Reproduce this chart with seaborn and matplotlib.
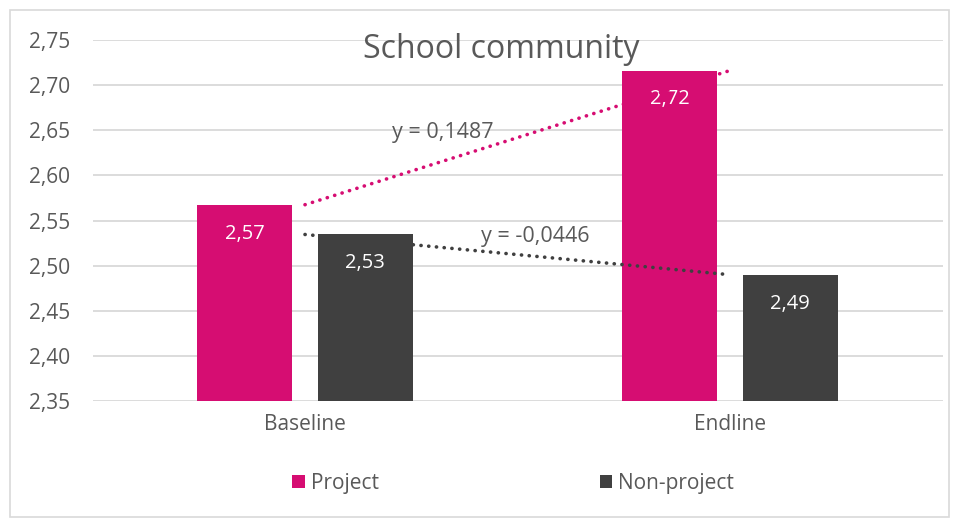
import matplotlib
matplotlib.use("Agg")
import matplotlib.pyplot as plt
import seaborn as sns
import pandas as pd
import numpy as np
from matplotlib.patches import Rectangle

categories = ["Baseline", "Endline"]
groups = ["Project", "Non-project"]
project_vals = [2.5675, 2.7162]
nonproject_vals = [2.5345, 2.4899]
trend_labels = ["y = 0,1487", "y = -0,0446"]
yticks = [2.35, 2.40, 2.45, 2.50, 2.55, 2.60, 2.65, 2.70, 2.75]

colors = {"Project": "#D60D72", "Non-project": "#404040"}

df = pd.DataFrame({
    "Period": categories * 2,
    "Group": ["Project"] * 2 + ["Non-project"] * 2,
    "Value": project_vals + nonproject_vals,
})

sns.set_theme(style="white")
plt.rcParams["font.family"] = ["Open Sans", "DejaVu Sans"]

fig = plt.figure(figsize=(9.59, 5.27), dpi=100)
ax = fig.add_axes([92.5 / 959, 1 - 401 / 527, 850 / 959, 361 / 527])

sns.barplot(data=df, x="Period", y="Value", hue="Group", hue_order=groups,
            palette=colors, width=0.568, gap=0.21, ax=ax, legend=True,
            saturation=1, linewidth=0, zorder=3)

ax.set_ylim(2.35, 2.75)
ax.set_xlim(-0.5, 1.5)
ax.set_yticks(yticks)
ax.set_yticklabels([f"{v:.2f}".replace(".", ",") for v in yticks])
ax.grid(axis="y", color="#D9D9D9", linewidth=1.3, zorder=0)
ax.set_axisbelow(True)
for s in ax.spines.values():
    s.set_visible(False)
ax.tick_params(axis="both", length=0, labelsize=15, colors="#595959", pad=9)
ax.tick_params(axis="y", pad=16)
ax.set_xlabel("")
ax.set_ylabel("")

for cont in ax.containers:
    ax.bar_label(cont, labels=[f"{b.get_height():.2f}".replace(".", ",") for b in cont],
                 label_type="edge", padding=-28, color="white", fontsize=14.5)

# trendlines (linear fit through each series across categories)
xs = np.arange(len(categories))
for vals, g in [(project_vals, "Project"), (nonproject_vals, "Non-project")]:
    k, b = np.polyfit(xs, vals, 1)
    ax.plot(xs, k * xs + b, color=colors[g], linewidth=2.6,
            linestyle=(0, (0.05, 2.1)), dash_capstyle="round", zorder=4)

ax.text(0.325, 2.647, trend_labels[0], ha="center", va="center",
        fontsize=15.5, color="#595959", zorder=5)
ax.text(0.541, 2.532, trend_labels[1], ha="center", va="center",
        fontsize=15.5, color="#595959", zorder=5)

fig.text(501 / 959, 1 - 49 / 527, "School community", ha="center", va="center",
         fontsize=23, color="#595959")

leg = ax.legend(loc="center", bbox_to_anchor=(0.495, -0.228), ncol=2, frameon=False,
                fontsize=15, handlelength=0.6, handleheight=0.6, handletextpad=0.3,
                columnspacing=10.6, labelcolor="#595959")

fig.patches.append(Rectangle((10 / 959, 10 / 527), (949 - 10) / 959, (517 - 10) / 527,
                             transform=fig.transFigure, fill=False,
                             edgecolor="#D9D9D9", linewidth=1.2))

fig.savefig("out.png", dpi=100)
